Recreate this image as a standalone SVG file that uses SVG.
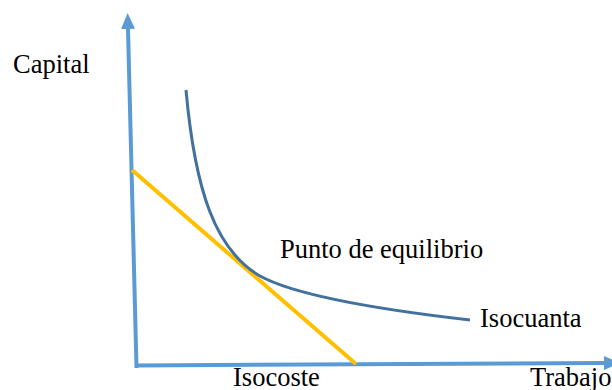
<svg xmlns="http://www.w3.org/2000/svg" width="612" height="390" viewBox="0 0 612 390">
<style>
.axis{stroke:#5B9BD5;stroke-width:4;fill:none}
.lbl{font-family:"Liberation Serif","Times New Roman",serif;font-size:26.5px;fill:#000}
</style>
<defs>
<marker id="arr" markerUnits="userSpaceOnUse" markerWidth="16" markerHeight="16" refX="0" refY="8" orient="auto">
<path d="M0,1 L16,8 L0,15 Z" fill="#5B9BD5"/>
</marker>
</defs>
<rect width="612" height="390" fill="#fff"/>
<g id="connectors">
<line class="axis" x1="136.5" y1="368" x2="128" y2="29" marker-end="url(#arr)"/>
<line class="axis" x1="135" y1="365.5" x2="604" y2="363" marker-end="url(#arr)"/>
</g>
<g id="isocoste-line">
<line x1="132" y1="170" x2="356" y2="364" stroke="#FFC000" stroke-width="4"/>
</g>
<g id="isocuanta-curve">
<path d="M186,90 C195,190 215,250 260,276 C300,298 400,312 470,320" fill="none" stroke="#41719C" stroke-width="3"/>
</g>
<g id="labels">
<text class="lbl" x="13" y="72.5">Capital</text>
<text class="lbl" x="280" y="258">Punto de equilibrio</text>
<text class="lbl" x="480" y="327">Isocuanta</text>
<text class="lbl" x="233" y="386">Isocoste</text>
<text class="lbl" x="530" y="386">Trabajo</text>
</g>
</svg>
